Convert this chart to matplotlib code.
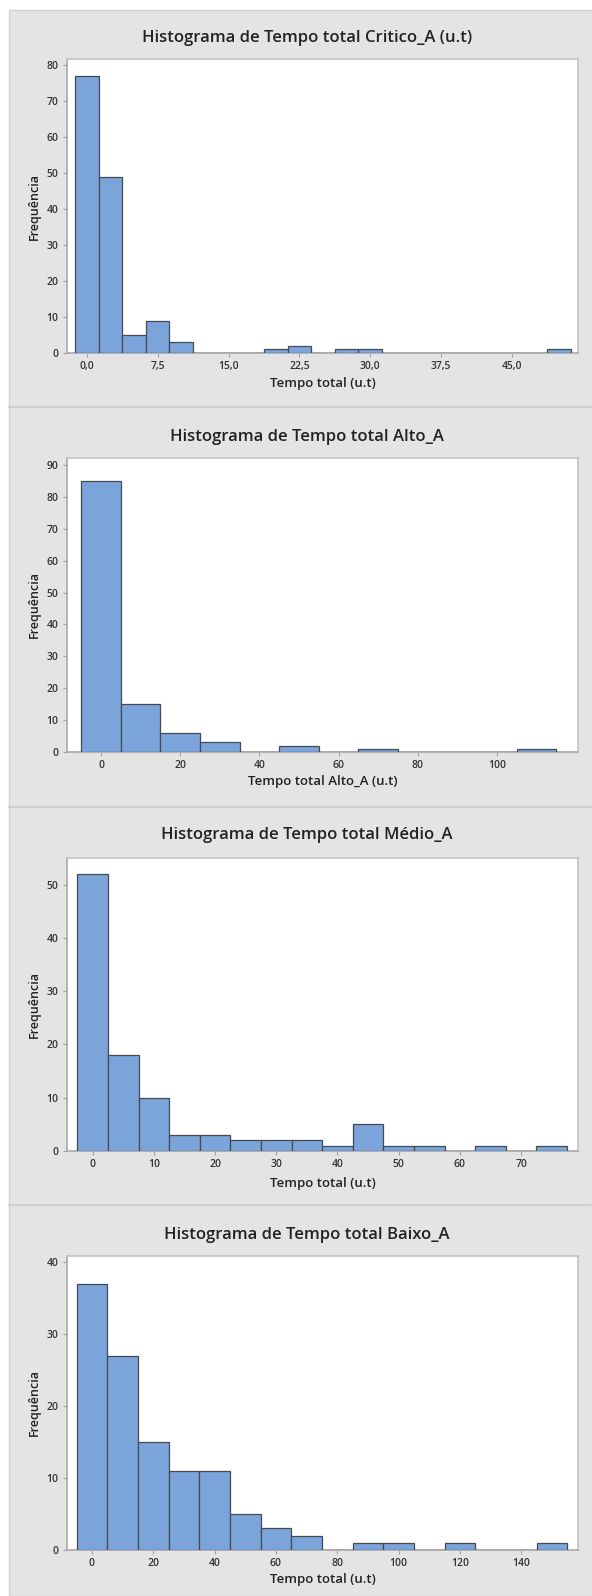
import matplotlib
matplotlib.use("Agg")
import matplotlib.pyplot as plt
from matplotlib.patches import Rectangle
from matplotlib.lines import Line2D

plt.rcParams['font.family'] = ['Open Sans', 'DejaVu Sans']

W, H = 592, 1596

# bin centres and counts for each histogram
critico_centers = [0, 2.5, 5, 7.5, 10, 12.5, 15, 17.5, 20, 22.5, 25, 27.5, 30,
                   32.5, 35, 37.5, 40, 42.5, 45, 47.5, 50]
critico_counts = [77, 49, 5, 9, 3, 0, 0, 0, 1, 2, 0, 1, 1,
                  0, 0, 0, 0, 0, 0, 0, 1]

alto_centers = [0, 10, 20, 30, 40, 50, 60, 70, 80, 90, 100, 110]
alto_counts = [85, 15, 6, 3, 0, 2, 0, 1, 0, 0, 0, 1]

medio_centers = [0, 5, 10, 15, 20, 25, 30, 35, 40, 45, 50, 55, 60, 65, 70, 75]
medio_counts = [52, 18, 10, 3, 3, 2, 2, 2, 1, 5, 1, 1, 0, 1, 0, 1]

baixo_centers = [0, 10, 20, 30, 40, 50, 60, 70, 80, 90, 100, 110, 120, 130, 140, 150]
baixo_counts = [37, 27, 15, 11, 11, 5, 3, 2, 0, 1, 1, 0, 1, 0, 0, 1]

titles = ["Histograma de Tempo total Critico_A (u.t)",
          "Histograma de Tempo total Alto_A",
          "Histograma de Tempo total Médio_A",
          "Histograma de Tempo total Baixo_A"]
xlabels = ["Tempo total (u.t)", "Tempo total Alto_A (u.t)",
           "Tempo total (u.t)", "Tempo total (u.t)"]

critico_xticks = [0, 7.5, 15, 22.5, 30, 37.5, 45]
alto_xticks = [0, 20, 40, 60, 80, 100]
medio_xticks = [0, 10, 20, 30, 40, 50, 60, 70]
baixo_xticks = [0, 20, 40, 60, 80, 100, 120, 140]

panels = [
    # centers, counts, width, xlim, ylim_top, yticks, xticks, decimal labels
    (critico_centers, critico_counts, 2.5, (-2.1, 52.0), 81.7, range(0, 81, 10), critico_xticks, True),
    (alto_centers, alto_counts, 10, (-8.6, 120.5), 92.2, range(0, 91, 10), alto_xticks, False),
    (medio_centers, medio_counts, 5, (-4.2, 79.3), 55.0, range(0, 51, 10), medio_xticks, False),
    (baixo_centers, baixo_counts, 10, (-8.1, 158.5), 40.9, range(0, 41, 10), baixo_xticks, False),
]

# pixel layout of each panel: plot top, plot bottom, title y, xlabel y
plot_boxes = [(59, 353, 38, 383), (458, 752, 437, 782),
              (858, 1151, 835, 1183), (1256, 1550, 1235, 1580)]
separators = [407, 807, 1205]
plot_left, plot_right = 67, 578

BG = "#e4e4e4"
BAR = "#7ba5da"
EDGE = "#454a52"
FRAME = "#c4c4c4"
TEXT = "#222222"

fig = plt.figure(figsize=(W / 100, H / 100), dpi=100)
fig.patch.set_facecolor("white")


def fx(px):
    return px / W


def fy(py):
    return 1 - py / H


# gray background panel
fig.patches.append(Rectangle((fx(9), 0), 1 - fx(9), fy(10), transform=fig.transFigure,
                             facecolor=BG, edgecolor="#d2d2d2", lw=1, zorder=-2))
for s in separators:
    fig.lines.append(Line2D([fx(9), 1], [fy(s), fy(s)], transform=fig.transFigure,
                            color="#cfcfcf", lw=1.5, zorder=-1))

for (centers, counts, width, xlim, ytop, yticks, xticks, decimal), box, title, xl in zip(
        panels, plot_boxes, titles, xlabels):
    top, bottom, ty, xly = box
    ax = fig.add_axes([fx(plot_left), fy(bottom), fx(plot_right - plot_left), (bottom - top) / H])
    ax.set_zorder(2)
    ax.set_facecolor("white")
    ax.bar(centers, counts, width=width, color=BAR, edgecolor=EDGE, linewidth=0.9, zorder=3)
    ax.set_xlim(*xlim)
    ax.set_ylim(0, ytop)
    ax.set_yticks(list(yticks))
    ax.set_xticks(xticks)
    if decimal:
        ax.set_xticklabels([("%.1f" % t).replace(".", ",") for t in xticks])
    for sp in ax.spines.values():
        sp.set_color(FRAME)
        sp.set_linewidth(1.2)
    ax.spines["left"].set_color("#a9a9a9")
    ax.spines["bottom"].set_color("#a9a9a9")
    ax.tick_params(axis="both", length=3, width=0.8, color="#a0a0a0", labelsize=7.5,
                   labelcolor="#333333", pad=3)
    for lab in ax.get_xticklabels() + ax.get_yticklabels():
        lab.set_fontweight("semibold")

    fig.text(fx(307), fy(ty), title, ha="center", va="center", fontsize=12,
             fontweight="semibold", color=TEXT)
    fig.text(fx((plot_left + plot_right) / 2), fy(xly), xl, ha="center", va="center",
             fontsize=9.5, fontweight="semibold", color=TEXT)
    fig.text(fx(34), fy((top + bottom) / 2), "Frequência", ha="center", va="center",
             rotation=90, fontsize=9, fontweight="semibold", color=TEXT)

fig.savefig("out.png", dpi=100, facecolor=fig.get_facecolor())
